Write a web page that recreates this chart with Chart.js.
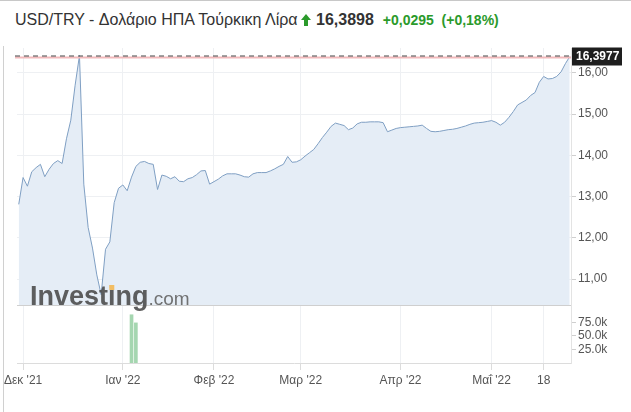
<!DOCTYPE html>
<html>
<head>
<meta charset="utf-8">
<script src="https://cdn.jsdelivr.net/npm/chart.js@4.4.1/dist/chart.umd.min.js"></script>
<style>
  body { margin: 0; background: #fff; }
  #wrap { position: relative; width: 631px; height: 412px; overflow: hidden; font-family: "Liberation Sans", Arial, sans-serif; }
  #topLine { position: absolute; left: 0; top: 0; width: 631px; height: 1px; background: #c8c8c8; }
  #leftLine { position: absolute; left: 3px; top: 46px; width: 1px; bottom: 0; background: #d0d0d0; }
  #head { position: absolute; left: 15px; top: 10px; line-height: 20px; white-space: nowrap; font-size: 16px; color: #333; }
  #head .last { font-weight: bold; color: #333; }
  #head .chg { font-weight: bold; color: #2b9a2b; font-size: 14px; }
  #head svg { vertical-align: -1px; margin: 0 1px 0 3px; }
  canvas { position: absolute; left: 0; top: 0; }
</style>
</head>
<body>
<div id="wrap">
  <div id="topLine"></div>
  <div id="leftLine"></div>
  <div id="head">USD/TRY - Δολάριο ΗΠΑ Τούρκικη Λίρα<svg width="10" height="12" viewBox="0 0 10 12"><polygon points="5,0 10,6 7,6 7,12 3,12 3,6 0,6" fill="#2b9a2b"/></svg> <span class="last">16,3898</span>&nbsp; <span class="chg">+0,0295&nbsp; (+0,18%)</span></div>
  <canvas id="usdTryChart" width="631" height="412"></canvas>
</div>
<script>
// trading-day index, 0 = 1 Dec 2021
const firstDay = -1;
const prices = [
  12.81, 13.46, 13.25, 13.60, 13.70, 13.78, 13.48, 13.66, 13.80, 13.87,
  13.80, 14.40, 14.85, 15.70, 16.42, 13.30, 12.25, 11.75, 11.10, 10.62,
  11.72, 11.90, 12.85, 13.20, 13.28, 13.14, 13.47, 13.73, 13.83, 13.85,
  13.80, 13.78, 13.17, 13.52, 13.49, 13.43, 13.48, 13.37, 13.36, 13.43,
  13.46, 13.53, 13.62, 13.63, 13.30, 13.36, 13.42, 13.50, 13.55, 13.55,
  13.55, 13.52, 13.48, 13.47, 13.55, 13.58, 13.58, 13.58, 13.62, 13.67,
  13.73, 13.78, 13.97, 13.83, 13.84, 13.89, 13.98, 14.06, 14.14, 14.28,
  14.43, 14.56, 14.70, 14.78, 14.75, 14.72, 14.62, 14.66, 14.76, 14.80,
  14.80, 14.81, 14.81, 14.81, 14.79, 14.57, 14.61, 14.65, 14.67, 14.68,
  14.69, 14.70, 14.71, 14.73, 14.65, 14.58, 14.57, 14.58, 14.60, 14.62,
  14.63, 14.65, 14.68, 14.71, 14.75, 14.78, 14.79, 14.80, 14.82, 14.84,
  14.80, 14.73, 14.80, 14.92, 15.06, 15.22, 15.28, 15.34, 15.45, 15.52,
  15.77, 15.91, 15.85, 15.86, 15.91, 16.02, 16.22, 16.39
];
const lastPrice = 16.3977;
const volumeDays = [25, 26];
const volumes = [89000, 74000];
const monthTickDays = [0, 23, 44, 64, 87, 108, 120];
const monthLabels = ["Δεκ '21", "Ιαν '22", "Φεβ '22", "Μαρ '22", "Απρ '22", "Μαΐ '22", "18"];
const priceTicks = [11, 12, 13, 14, 15, 16];
const volumeTicks = [25000, 50000, 75000];

const fmtPrice = (v, d) => v.toFixed(d).replace('.', ',');

const overlay = {
  id: 'overlay',
  afterDatasetsDraw(chart) {
    const { ctx, chartArea } = chart;
    const y = chart.scales.y;
    ctx.save();
    // line between price and volume panes
    ctx.strokeStyle = '#cfcfcf';
    ctx.lineWidth = 1;
    ctx.beginPath();
    ctx.moveTo(chartArea.left, Math.round(y.bottom) + 0.5);
    ctx.lineTo(chartArea.right, Math.round(y.bottom) + 0.5);
    ctx.stroke();

    // watermark
    ctx.fillStyle = 'rgba(80,80,80,0.92)';
    ctx.textBaseline = 'alphabetic';
    ctx.font = 'bold 27px "Liberation Sans", Arial, sans-serif';
    ctx.fillText('Investing', 30, y.bottom);
    const w = ctx.measureText('Investing').width;
    const wDot = ctx.measureText('Invest').width + ctx.measureText('i').width / 2;
    ctx.fillStyle = '#f2bd63';
    ctx.fillRect(30 + wDot - 2.5, y.bottom - 20, 5, 5);
    ctx.font = '19px "Liberation Sans", Arial, sans-serif';
    ctx.fillStyle = 'rgba(100,100,100,0.9)';
    ctx.fillText('.com', 30 + w, y.bottom);

    // last price line
    const py = Math.round(y.getPixelForValue(lastPrice)) + 0.5;
    ctx.strokeStyle = '#f2b9bb';
    ctx.lineWidth = 2;
    ctx.beginPath();
    ctx.moveTo(chartArea.left - 2, py + 1);
    ctx.lineTo(chartArea.right, py + 1);
    ctx.stroke();
    ctx.strokeStyle = '#444';
    ctx.lineWidth = 1;
    ctx.setLineDash([5, 4]);
    ctx.beginPath();
    ctx.moveTo(chartArea.left - 2, py - 0.5);
    ctx.lineTo(chartArea.right, py - 0.5);
    ctx.stroke();
    ctx.setLineDash([]);

    // price box
    ctx.fillStyle = '#1e1e1e';
    ctx.fillRect(chartArea.right + 1, py - 9, 50, 18);
    ctx.fillStyle = '#fff';
    ctx.font = 'bold 12px "Liberation Sans", Arial, sans-serif';
    ctx.textBaseline = 'middle';
    ctx.textAlign = 'left';
    ctx.fillText(fmtPrice(lastPrice, 4), chartArea.right + 5, py);
    ctx.restore();
  }
};

Chart.defaults.font.family = '"Liberation Sans", Arial, sans-serif';
Chart.defaults.font.size = 12;
Chart.defaults.color = '#555';

new Chart(document.getElementById('usdTryChart'), {
  data: {
    datasets: [
      {
        type: 'line',
        data: prices.map((p, i) => ({ x: firstDay + i, y: p })),
        borderColor: '#7f9fc3',
        backgroundColor: '#e5edf6',
        borderWidth: 1,
        fill: 'start',
        pointRadius: 0,
        tension: 0,
        yAxisID: 'y'
      },
      {
        type: 'bar',
        data: volumeDays.map((d, i) => ({ x: d, y: volumes[i] })),
        backgroundColor: '#a5d6b0',
        barThickness: 3,
        yAxisID: 'yVol'
      }
    ]
  },
  options: {
    responsive: false,
    animation: false,
    events: [],
    layout: { padding: { top: 48, left: 17, right: 0, bottom: 0 } },
    plugins: { legend: { display: false }, tooltip: { enabled: false } },
    scales: {
      x: {
        type: 'linear',
        position: 'bottom',
        offset: false,
        min: -1.4,
        max: 126.3,
        afterBuildTicks: s => { s.ticks = monthTickDays.map(v => ({ value: v })); },
        afterFit: s => { s.height = 49; },
        grid: { offset: false, color: '#eef0f3', tickLength: 7, tickColor: '#dcdcdc' },
        border: { color: '#dcdcdc' },
        ticks: {
          autoSkip: false,
          maxRotation: 0,
          padding: 3,
          callback: v => monthLabels[monthTickDays.indexOf(v)]
        }
      },
      y: {
        type: 'linear',
        position: 'right',
        stack: 'panes',
        stackWeight: 257,
        min: 10.37,
        max: 16.60,
        afterBuildTicks: s => { s.ticks = priceTicks.map(v => ({ value: v })); },
        afterFit: s => { s.width = 60; },
        grid: { color: '#eef0f3', tickLength: 5, tickColor: '#cfcfcf' },
        border: { color: '#e3e3e3' },
        ticks: { autoSkip: false, padding: 2, callback: v => fmtPrice(v, 2) }
      },
      yVol: {
        type: 'linear',
        position: 'right',
        stack: 'panes',
        stackWeight: 58,
        min: 0,
        max: 107000,
        afterBuildTicks: s => { s.ticks = volumeTicks.map(v => ({ value: v })); },
        afterFit: s => { s.width = 60; },
        grid: { drawOnChartArea: false, tickLength: 5, tickColor: '#cfcfcf' },
        border: { color: '#e3e3e3' },
        ticks: { autoSkip: false, padding: 2, callback: v => (v / 1000).toFixed(1) + 'k' }
      }
    }
  },
  plugins: [overlay]
});
</script>
</body>
</html>
